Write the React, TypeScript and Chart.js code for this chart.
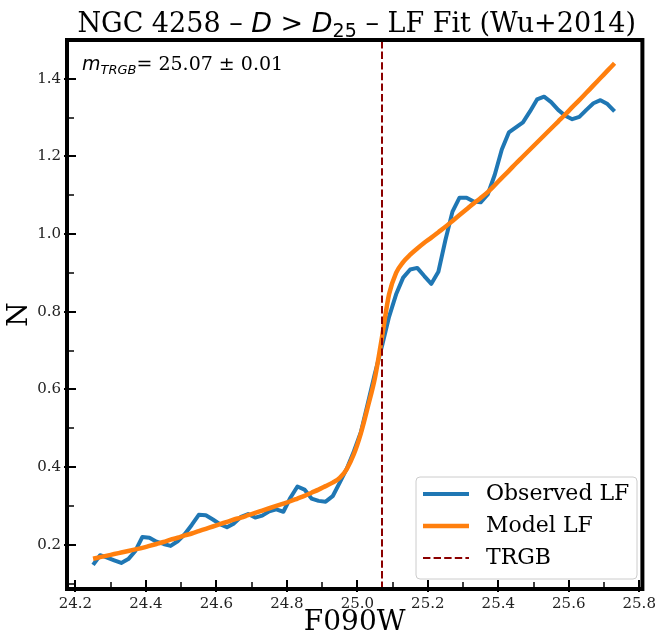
import { useEffect, useRef } from 'react';
import { Chart, registerables } from 'chart.js';

Chart.register(...registerables);

// ---- data ----
const MAGNITUDES = [
  24.25, 24.27, 24.29, 24.31, 24.33, 24.35, 24.37, 24.39, 24.41, 24.43,
  24.45, 24.47, 24.49, 24.51, 24.53, 24.55, 24.57, 24.59, 24.61, 24.63,
  24.65, 24.67, 24.69, 24.71, 24.73, 24.75, 24.77, 24.79, 24.81, 24.83,
  24.85, 24.87, 24.89, 24.91, 24.93, 24.95, 24.97, 24.99, 25.01, 25.03,
  25.05, 25.07, 25.09, 25.11, 25.13, 25.15, 25.17, 25.19, 25.21, 25.23,
  25.25, 25.27, 25.29, 25.31, 25.33, 25.35, 25.37, 25.39, 25.41, 25.43,
  25.45, 25.47, 25.49, 25.51, 25.53, 25.55, 25.57, 25.59, 25.61, 25.63,
  25.65, 25.67, 25.69, 25.71, 25.73,
];

const OBSERVED_LF = [
  0.148, 0.173, 0.167, 0.160, 0.153, 0.163, 0.184, 0.220, 0.218, 0.208,
  0.202, 0.197, 0.209, 0.227, 0.251, 0.277, 0.276, 0.265, 0.253, 0.245,
  0.255, 0.272, 0.279, 0.270, 0.275, 0.286, 0.291, 0.285, 0.321, 0.350,
  0.342, 0.319, 0.313, 0.311, 0.325, 0.360, 0.396, 0.440, 0.490, 0.565,
  0.642, 0.712, 0.787, 0.845, 0.888, 0.909, 0.913, 0.892, 0.872, 0.903,
  0.985, 1.058, 1.094, 1.094, 1.084, 1.082, 1.102, 1.153, 1.218, 1.262,
  1.275, 1.288, 1.316, 1.347, 1.354, 1.340, 1.320, 1.305, 1.296, 1.302,
  1.320, 1.337, 1.345, 1.335, 1.316,
];

const MODEL_LF = [
  0.164, 0.168, 0.172, 0.176, 0.180, 0.184, 0.188, 0.192, 0.197, 0.202,
  0.207, 0.213, 0.218, 0.224, 0.229, 0.235, 0.241, 0.247, 0.253, 0.259,
  0.265, 0.270, 0.276, 0.282, 0.288, 0.294, 0.300, 0.306, 0.312, 0.319,
  0.326, 0.334, 0.342, 0.351, 0.360, 0.372, 0.395, 0.433, 0.487, 0.556,
  0.630, 0.735, 0.845, 0.900, 0.928, 0.947, 0.963, 0.978, 0.991, 1.005,
  1.019, 1.034, 1.049, 1.064, 1.079, 1.093, 1.108, 1.126, 1.145, 1.163,
  1.182, 1.200, 1.218, 1.236, 1.254, 1.272, 1.290, 1.308, 1.327, 1.345,
  1.364, 1.383, 1.402, 1.421, 1.440,
];

const M_TRGB = 25.07;
const M_TRGB_ERR = 0.01;

const X_TICKS = [24.2, 24.4, 24.6, 24.8, 25.0, 25.2, 25.4, 25.6, 25.8];
const X_MINOR = [24.3, 24.5, 24.7, 24.9, 25.1, 25.3, 25.5, 25.7];
const Y_TICKS = [0.2, 0.4, 0.6, 0.8, 1.0, 1.2, 1.4];
const Y_MINOR = [0.1, 0.3, 0.5, 0.7, 0.9, 1.1, 1.3];

const X_MIN = 24.176;
const X_MAX = 25.809;
const Y_MIN = 0.086;
const Y_MAX = 1.5;

const SERIF = '"DejaVu Serif", serif';
const SANS = '"DejaVu Sans", sans-serif';

const BLUE = '#1f77b4';
const ORANGE = '#ff7f0e';
const DARKRED = '#8b0000';

type Run = { t: string; f: string; dy?: number };

function drawRuns(ctx: CanvasRenderingContext2D, runs: Run[], x: number, y: number, align: 'left' | 'center') {
  let total = 0;
  for (const r of runs) {
    ctx.font = r.f;
    total += ctx.measureText(r.t).width;
  }
  let cx = align === 'center' ? x - total / 2 : x;
  ctx.textAlign = 'left';
  ctx.textBaseline = 'alphabetic';
  for (const r of runs) {
    ctx.font = r.f;
    ctx.fillText(r.t, cx, y + (r.dy || 0));
    cx += ctx.measureText(r.t).width;
  }
}

const decorPlugin = {
  id: 'decor',
  afterDatasetsDraw(chart: any) {
    const ctx: CanvasRenderingContext2D = chart.ctx;
    const { left, right, top, bottom } = chart.chartArea;
    const xs = chart.scales.x;
    const ys = chart.scales.y;
    ctx.save();

    // ticks (inward)
    ctx.strokeStyle = '#000';
    ctx.lineCap = 'butt';
    ctx.lineWidth = 2;
    for (const v of X_TICKS) {
      const px = Math.round(xs.getPixelForValue(v));
      if (px < left - 1 || px > right + 1) continue;
      ctx.beginPath();
      ctx.moveTo(px, bottom + 3);
      ctx.lineTo(px, bottom - 9);
      ctx.stroke();
    }
    for (const v of Y_TICKS) {
      const py = Math.round(ys.getPixelForValue(v));
      ctx.beginPath();
      ctx.moveTo(left - 3, py);
      ctx.lineTo(left + 9, py);
      ctx.stroke();
    }
    ctx.lineWidth = 1.5;
    for (const v of X_MINOR) {
      const px = Math.round(xs.getPixelForValue(v));
      ctx.beginPath();
      ctx.moveTo(px, bottom);
      ctx.lineTo(px, bottom - 7);
      ctx.stroke();
    }
    for (const v of Y_MINOR) {
      const py = Math.round(ys.getPixelForValue(v));
      ctx.beginPath();
      ctx.moveTo(left, py);
      ctx.lineTo(left + 7, py);
      ctx.stroke();
    }

    // frame
    ctx.lineWidth = 4;
    ctx.strokeStyle = '#000';
    ctx.strokeRect(left, top, right - left, bottom - top);

    // title
    ctx.fillStyle = '#000';
    drawRuns(
      ctx,
      [
        { t: 'NGC 4258 – ', f: `27px ${SERIF}` },
        { t: 'D', f: `italic 27px ${SANS}` },
        { t: ' > ', f: `27px ${SANS}` },
        { t: 'D', f: `italic 27px ${SANS}` },
        { t: '25', f: `19px ${SANS}`, dy: 5 },
        { t: ' – LF Fit (Wu+2014)', f: `27px ${SERIF}` },
      ],
      (left + right) / 2 + 2,
      32,
      'center'
    );

    // annotation
    drawRuns(
      ctx,
      [
        { t: 'm', f: `italic 19px ${SANS}` },
        { t: 'TRGB', f: `italic 13px ${SANS}`, dy: 4 },
        { t: `= ${M_TRGB.toFixed(2)} ± ${M_TRGB_ERR.toFixed(2)}`, f: `19px ${SERIF}` },
      ],
      left + 15,
      top + 30,
      'left'
    );

    // axis titles
    ctx.font = `28px ${SERIF}`;
    ctx.textAlign = 'center';
    ctx.textBaseline = 'middle';
    ctx.fillText('F090W', (left + right) / 2, 623);
    ctx.save();
    ctx.translate(20, (top + bottom) / 2);
    ctx.rotate(-Math.PI / 2);
    ctx.fillText('N', 0, 0);
    ctx.restore();

    // legend
    const bx = 416, by = 477, bw = 221, bh = 102, r = 4;
    ctx.beginPath();
    ctx.moveTo(bx + r, by);
    ctx.lineTo(bx + bw - r, by);
    ctx.arcTo(bx + bw, by, bx + bw, by + r, r);
    ctx.lineTo(bx + bw, by + bh - r);
    ctx.arcTo(bx + bw, by + bh, bx + bw - r, by + bh, r);
    ctx.lineTo(bx + r, by + bh);
    ctx.arcTo(bx, by + bh, bx, by + bh - r, r);
    ctx.lineTo(bx, by + r);
    ctx.arcTo(bx, by, bx + r, by, r);
    ctx.closePath();
    ctx.fillStyle = 'rgba(255,255,255,0.8)';
    ctx.fill();
    ctx.strokeStyle = '#cccccc';
    ctx.lineWidth = 1;
    ctx.stroke();

    const entries = [
      { label: 'Observed LF', color: BLUE, width: 4, dash: [] as number[] },
      { label: 'Model LF', color: ORANGE, width: 4.5, dash: [] as number[] },
      { label: 'TRGB', color: DARKRED, width: 2, dash: [7.4, 3.2] },
    ];
    entries.forEach((e, i) => {
      const cy = 494 + i * 32;
      ctx.beginPath();
      ctx.strokeStyle = e.color;
      ctx.lineWidth = e.width;
      ctx.setLineDash(e.dash);
      ctx.moveTo(423, cy);
      ctx.lineTo(469, cy);
      ctx.stroke();
      ctx.setLineDash([]);
      ctx.fillStyle = '#000';
      ctx.font = `22px ${SERIF}`;
      ctx.textAlign = 'left';
      ctx.textBaseline = 'middle';
      ctx.fillText(e.label, 486, cy);
    });

    ctx.restore();
  },
};

export default function App() {
  const ref = useRef<HTMLCanvasElement>(null);

  useEffect(() => {
    document.body.style.margin = '0';
    const observed = MAGNITUDES.map((m, i) => ({ x: m, y: OBSERVED_LF[i] }));
    const model = MAGNITUDES.map((m, i) => ({ x: m, y: MODEL_LF[i] }));
    const trgbLine = [
      { x: M_TRGB, y: Y_MIN },
      { x: M_TRGB, y: Y_MAX },
    ];

    const chart = new Chart(ref.current as HTMLCanvasElement, {
      type: 'line',
      data: {
        datasets: [
          {
            label: 'TRGB',
            data: trgbLine,
            borderColor: DARKRED,
            borderWidth: 2,
            borderDash: [7.4, 3.2],
            pointRadius: 0,
            fill: false,
          },
          {
            label: 'Model LF',
            data: model,
            borderColor: ORANGE,
            borderWidth: 4.5,
            pointRadius: 0,
            cubicInterpolationMode: 'monotone',
            fill: false,
          },
          {
            label: 'Observed LF',
            data: observed,
            borderColor: BLUE,
            borderWidth: 4,
            pointRadius: 0,
            tension: 0,
            borderJoinStyle: 'round',
            fill: false,
          },
        ],
      },
      options: {
        responsive: false,
        animation: false,
        devicePixelRatio: 1,
        layout: { padding: { top: 40, right: 14, left: 0, bottom: 0 } },
        plugins: {
          legend: { display: false },
          tooltip: { enabled: false },
          title: { display: false },
        },
        scales: {
          x: {
            type: 'linear',
            min: X_MIN,
            max: X_MAX,
            afterBuildTicks: (s: any) => {
              s.ticks = X_TICKS.map((v) => ({ value: v }));
            },
            afterFit: (s: any) => {
              s.height = 48;
            },
            grid: { display: false, drawTicks: false },
            border: { display: false },
            ticks: {
              autoSkip: false,
              maxRotation: 0,
              padding: 6,
              color: '#222',
              font: { family: 'DejaVu Serif', size: 15 },
              callback: (v: any) => Number(v).toFixed(1),
            },
          },
          y: {
            type: 'linear',
            min: Y_MIN,
            max: Y_MAX,
            afterBuildTicks: (s: any) => {
              s.ticks = Y_TICKS.map((v) => ({ value: v }));
            },
            afterFit: (s: any) => {
              s.width = 67;
            },
            grid: { display: false, drawTicks: false },
            border: { display: false },
            ticks: {
              autoSkip: false,
              padding: 6,
              color: '#222',
              font: { family: 'DejaVu Serif', size: 15 },
              callback: (v: any) => Number(v).toFixed(1),
            },
          },
        },
      },
      plugins: [decorPlugin],
    } as any);

    return () => chart.destroy();
  }, []);

  return (
    <div style={{ width: 662, height: 637 }}>
      <canvas ref={ref} width={662} height={637} style={{ display: 'block' }} />
    </div>
  );
}
